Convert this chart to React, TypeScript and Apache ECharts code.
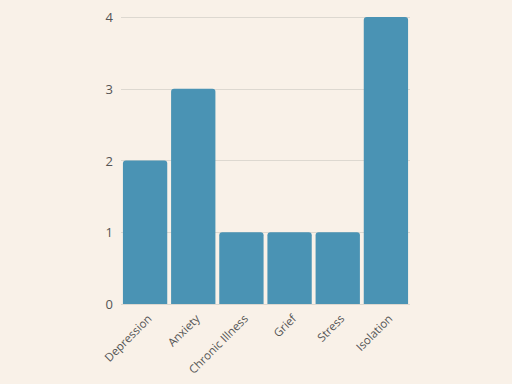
import React, { useEffect, useRef } from "react";
import * as echarts from "echarts";

const categories = ["Depression", "Anxiety", "Chronic Illness", "Grief", "Stress", "Isolation"];
const values = [2, 3, 1, 1, 1, 4];
const yTicks = [0, 1, 2, 3, 4];

export default function App() {
  const ref = useRef<HTMLDivElement>(null);
  useEffect(() => {
    document.body.style.margin = "0";
    const chart = echarts.init(ref.current!, null, { renderer: "svg" });
    chart.setOption({
      animation: false,
      backgroundColor: "#f9f1e8",
      textStyle: { fontFamily: "Open Sans" },
      grid: { left: 121, right: 102, top: 17, bottom: 80, containLabel: false },
      xAxis: {
        type: "category",
        data: categories,
        axisLine: { show: false },
        axisTick: { show: false },
        axisLabel: {
          rotate: 45,
          color: "#555",
          fontSize: 11.5,
          margin: 8,
          verticalAlign: "top",
          fontFamily: "Open Sans",
          interval: 0,
        },
      },
      yAxis: {
        type: "value",
        min: yTicks[0],
        max: yTicks[yTicks.length - 1],
        interval: 1,
        axisLine: { show: false },
        axisTick: { show: false },
        axisLabel: { color: "#555", fontSize: 13, margin: 8, fontFamily: "Open Sans" },
        splitLine: { lineStyle: { color: "#ddd8d0", width: 1 } },
      },
      series: [
        {
          type: "bar",
          data: values,
          barCategoryGap: "8%",
          itemStyle: { color: "#4a93b4", borderRadius: [3, 3, 0, 0] },
        },
      ],
    });
    return () => chart.dispose();
  }, []);
  return <div ref={ref} style={{ width: 512, height: 384 }} />;
}
